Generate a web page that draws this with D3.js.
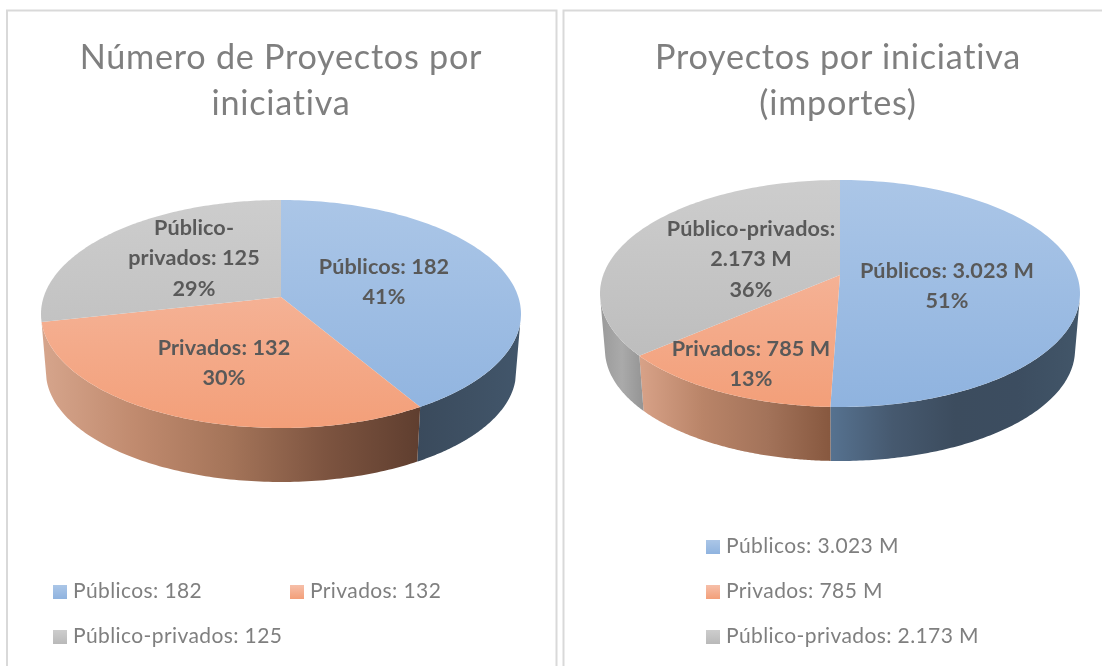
<!DOCTYPE html>
<html><head><meta charset="utf-8">
<script src="https://cdn.jsdelivr.net/npm/d3@7"></script>
<style>html,body{margin:0;padding:0;background:#fff;overflow:hidden}svg{display:block;filter:blur(0.35px)}text{font-family:Lato,"Open Sans",sans-serif}</style>
</head><body><svg id="c" width="1102" height="666"></svg>
<script>
const categories = ["Públicos", "Privados", "Público-privados"];
const countValues = [182, 132, 125];
const amountValues = [3023, 785, 2173];
const countLegend = ["Públicos: 182", "Privados: 132", "Público-privados: 125"];
const amountLegend = ["Públicos: 3.023 M", "Privados: 785 M", "Público-privados: 2.173 M"];
const countLabels = [["Públicos: 182", "41%"], ["Privados: 132", "30%"], ["Público-", "privados: 125", "29%"]];
const amountLabels = [["Públicos: 3.023 M", "51%"], ["Privados: 785 M", "13%"], ["Público-privados:", "2.173 M", "36%"]];
const countTitle = ["Número de Proyectos por", "iniciativa"];
const amountTitle = ["Proyectos por iniciativa", "(importes)"];

const svg = d3.select("#c"), defs = svg.append("defs");
const topStops = [["#abc6e7", "#8fb3df"], ["#f6bfa9", "#f39f79"], ["#cdcdcd", "#b9b9b9"]];

function grad(id, horizontal, x1, x2, stops) {
  const g = defs.append("linearGradient").attr("id", id).attr("gradientUnits", "userSpaceOnUse")
    .attr("x1", horizontal ? x1 : 0).attr("x2", horizontal ? x2 : 0)
    .attr("y1", horizontal ? 0 : x1).attr("y2", horizontal ? 0 : x2);
  stops.forEach((c, i) => g.append("stop").attr("offset", i / (stops.length - 1)).attr("stop-color", c));
  return `url(#${id})`;
}

function pie3d(o) {
  const g = svg.append("g");
  const s = Math.sqrt(1 - o.k * o.k);
  const xTop = d3.scaleLinear().domain([-1, 1]).range([o.cx - o.rx, o.cx + o.rx]);
  const yTop = d3.scaleLinear().domain([-1, 1]).range([o.cy - o.ry, o.cy + o.ry]);
  const xBot = d3.scaleLinear().domain([-1, 1]).range([o.cx - o.rx2, o.cx + o.rx2]);
  const yBot = d3.scaleLinear().domain([-1, 1]).range([o.cy2 - o.ry2, o.cy2 + o.ry2]);
  const proj = t => {
    const u = Math.sin(t), v = -Math.cos(t), w = 1 + o.k * v;
    return [u * s / w, (v + o.k) / w];
  };
  const onTop = t => { const p = proj(t); return [xTop(p[0]), yTop(p[1])]; };
  const onBot = t => { const p = proj(t); return [xBot(p[0]), yBot(p[1])]; };
  const sample = (a, b) => d3.range(0, 121).map(i => a + (b - a) * i / 120);
  const line = d3.line();
  const arcs = d3.pie().sort(null)(o.values);

  arcs.forEach((d, i) => {
    const a = Math.max(d.startAngle, o.wallFrom), b = Math.min(d.endAngle, o.wallTo);
    if (b <= a) return;
    const ts = sample(a, b);
    const pts = ts.map(onTop).concat(ts.slice().reverse().map(onBot));
    const xs = d3.extent(pts, p => p[0]);
    g.append("path").attr("d", line(pts) + "Z")
      .attr("fill", grad(`${o.id}w${i}`, true, xs[0], xs[1], o.walls[i]));
  });
  arcs.forEach((d, i) => {
    const pts = [[xTop(0), yTop(o.k)]].concat(sample(d.startAngle, d.endAngle).map(onTop));
    g.append("path").attr("d", line(pts) + "Z")
      .attr("fill", grad(`${o.id}t${i}`, false, o.cy - o.ry, o.cy + o.ry, topStops[i]));
  });

  o.labels.forEach((ls, i) => ls.forEach((t, j) => {
    g.append("text").attr("x", o.labelPos[i][0]).attr("y", o.labelPos[i][1] + j * 30.3)
      .attr("text-anchor", "middle").attr("font-size", 21.6).attr("font-weight", 700)
      .attr("letter-spacing", 0.1).attr("fill", "#595959").text(t);
  }));
  o.title.forEach((t, j) => {
    g.append("text").attr("x", o.titleX).attr("y", 68.5 + j * 46.5).attr("text-anchor", "middle")
      .attr("font-size", 34.2).attr("letter-spacing", 0.75).attr("fill", "#7f7f7f").text(t);
  });
  o.legend.forEach((t, i) => {
    const p = o.legendPos[i];
    g.append("rect").attr("x", p[0]).attr("y", p[1] - 13).attr("width", 14).attr("height", 14)
      .attr("fill", grad(`${o.id}l${i}`, false, p[1] - 13, p[1] + 1, [topStops[i][0], topStops[i][1]]));
    g.append("text").attr("x", p[0] + 20).attr("y", p[1]).attr("font-size", 21)
      .attr("letter-spacing", 0.4).attr("fill", "#7f7f7f").text(t);
  });
}

svg.append("path").attr("d", "M7 666V10.5H556.5V666M563.5 666V10.5H1102")
  .attr("fill", "none").attr("stroke", "#d9d9d9").attr("stroke-width", 2);

pie3d({ id: "a", values: countValues, cx: 281, cy: 314, rx: 240, ry: 114, k: -0.149,
  rx2: 235, cy2: 372, ry2: 110, wallFrom: 1.8, wallTo: 4.5,
  walls: [["#3a4a5c", "#3e5063", "#42566b"],
          ["#d6a58c", "#c08a6e", "#a47459", "#7d5440", "#5f3e2f"],
          ["#9a9a9a", "#a8a8a8"]],
  labels: countLabels, title: countTitle, titleX: 281, legend: countLegend,
  labelPos: [[384, 274], [224, 355], [194, 235]],
  legendPos: [[53, 598], [290, 598], [53, 643]] });

pie3d({ id: "b", values: amountValues, cx: 840, cy: 293.5, rx: 240, ry: 113.5, k: -0.163,
  rx2: 235, cy2: 350, ry2: 111, wallFrom: 1.78, wallTo: 4.52,
  walls: [["#567290", "#46596f", "#3c4c5e", "#3c4d60", "#425669"],
          ["#d8a288", "#b98468", "#a3735a", "#87583f"],
          ["#9a9a9a", "#aaaaaa", "#949494"]],
  labels: amountLabels, title: amountTitle, titleX: 838, legend: amountLegend,
  labelPos: [[947, 278], [751, 356], [751, 236]],
  legendPos: [[706, 553], [706, 598], [706, 643]] });
</script></body></html>
